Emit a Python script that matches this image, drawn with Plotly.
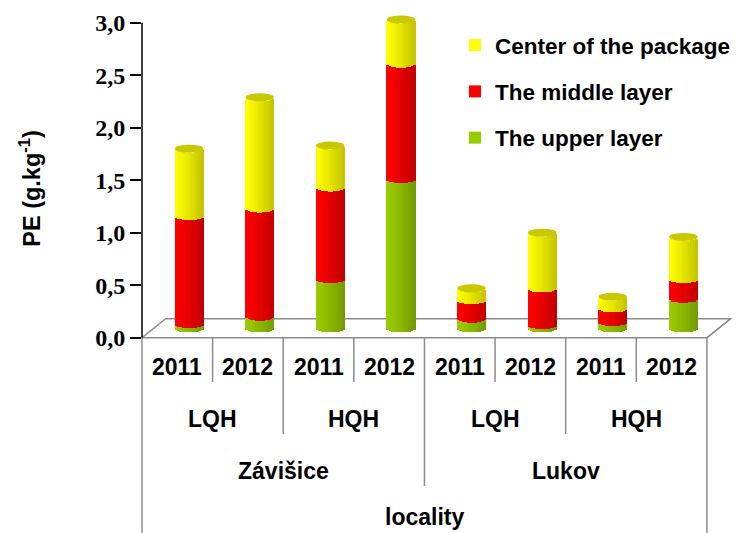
import math
import plotly.graph_objects as go

# ---- data -------------------------------------------------------------
localities = ["Závišice", "Lukov"]
habitats = ["LQH", "HQH"]
years = ["2011", "2012"]

series_names = ["The upper layer", "The middle layer", "Center of the package"]
upper_layer = [0.04, 0.11, 0.47, 1.42, 0.09, 0.03, 0.06, 0.28]
middle_layer = [1.03, 1.03, 0.87, 1.10, 0.18, 0.35, 0.13, 0.19]
center_package = [0.64, 1.06, 0.40, 0.42, 0.11, 0.53, 0.11, 0.40]

tick_values = [0, 0.5, 1.0, 1.5, 2.0, 2.5, 3.0]
tick_labels = ["0,0", "0,5", "1,0", "1,5", "2,0", "2,5", "3,0"]

y_title = "PE (g.kg<sup>-1</sup>)"
x_title = "locality"

# ---- geometry ---------------------------------------------------------
FIG_W, FIG_H = 736, 533
M_L, M_R, M_T, M_B = 142, 0, 7, 190
PLOT_W = FIG_W - M_L - M_R
PLOT_H = FIG_H - M_T - M_B
FRONT_RANGE = [-0.05, 3.15]     # value range measured on the front edge of the floor
CAT_PX = 71.7
X_RANGE = [-0.5, -0.5 + PLOT_W / CAT_PX]
UNIT_PX = PLOT_H / (FRONT_RANGE[1] - FRONT_RANGE[0])
PLOT_BOTTOM = FIG_H - M_B

DEPTH_DX = 24 / CAT_PX          # floor depth, horizontal
DEPTH_DY = 19 / UNIT_PX         # floor depth, vertical
BAR_W = 29 / CAT_PX             # cylinder diameter
CAP_H = 8 / UNIT_PX             # ellipse height of a cylinder cross-section
N_SLICES = 12

# the cylinders stand half way back on the floor: the value axis is shifted
Y_RANGE = [FRONT_RANGE[0] - DEPTH_DY / 2, FRONT_RANGE[1] - DEPTH_DY / 2]

GRAY = "#8c8c8c"
FONT = "Arial, Liberation Sans, sans-serif"
SERIF = "Times New Roman, Liberation Serif, serif"


def px_x(xd):
    return (xd - X_RANGE[0]) / (X_RANGE[1] - X_RANGE[0])


def px_y(yd):
    return (yd - FRONT_RANGE[0]) / (FRONT_RANGE[1] - FRONT_RANGE[0])


def paper_y(pixel):
    return (PLOT_BOTTOM - pixel) / PLOT_H


def shade(rgb, t):
    f = 1 - 0.24 * t ** 1.2
    return "rgb(%d,%d,%d)" % tuple(round(c * f) for c in rgb)


base_rgb = [(153, 204, 0), (255, 0, 0), (255, 255, 0)]
cap_color = "rgb(200,200,0)"
series_values = [upper_layer, middle_layer, center_package]

n_cat = len(upper_layer)
centers = [i + DEPTH_DX / 2 for i in range(n_cat)]

fig = go.Figure()

# stacked cylinders, each drawn as vertical slices shaded left-to-right
cum = [0.0] * n_cat
for s, (name, vals, rgb) in enumerate(zip(series_names, series_values, base_rgb)):
    for k in range(N_SLICES):
        u = -1 + (2 * k + 1) / N_SLICES
        arc = CAP_H / 2 * math.sqrt(max(0.0, 1 - u * u))
        color = shade(rgb, (k + 0.5) / N_SLICES)
        fig.add_trace(go.Bar(
            x=[c + u * BAR_W / 2 for c in centers],
            y=vals,
            base=[b - arc for b in cum],
            width=BAR_W / N_SLICES * 1.25,
            marker=dict(color=color, line=dict(width=0)),
            name=name,
            legendgroup=name,
            legendrank=3 - s,
            showlegend=(k == 0),
            hoverinfo="skip",
        ))
    cum = [a + b for a, b in zip(cum, vals)]

shapes = []

# floor of the 3D plot
shapes.append(dict(
    type="path", xref="paper", yref="paper", layer="below",
    path="M %f,%f L %f,%f L %f,%f L %f,%f Z" % (
        px_x(-0.5), px_y(0), px_x(n_cat - 0.5), px_y(0),
        px_x(n_cat - 0.5 + DEPTH_DX), px_y(DEPTH_DY), px_x(-0.5 + DEPTH_DX), px_y(DEPTH_DY)),
    fillcolor="white", line=dict(color=GRAY, width=1.5),
))

# top caps of the cylinders
for c, tot in zip(centers, cum):
    shapes.append(dict(
        type="circle", xref="x", yref="y",
        x0=c - BAR_W / 2, x1=c + BAR_W / 2,
        y0=tot - CAP_H / 2, y1=tot + CAP_H / 2,
        fillcolor=cap_color, line=dict(width=0),
    ))

# vertical value axis line
shapes.append(dict(type="line", xref="paper", yref="paper",
                   x0=0, x1=0, y0=px_y(0), y1=px_y(3.0),
                   line=dict(color="black", width=1.5)))

# category table below the floor
level_bottoms = [382, 434, 486]
for b in range(1, n_cat):
    if b % 4 == 0:
        bottom = level_bottoms[2]
    elif b % 2 == 0:
        bottom = level_bottoms[1]
    else:
        bottom = level_bottoms[0]
    shapes.append(dict(type="line", xref="paper", yref="paper",
                       x0=px_x(b - 0.5), x1=px_x(b - 0.5),
                       y0=px_y(0), y1=paper_y(bottom),
                       line=dict(color=GRAY, width=1.5)))
for edge in (-0.5, n_cat - 0.5):
    shapes.append(dict(type="line", xref="paper", yref="paper",
                       x0=px_x(edge), x1=px_x(edge),
                       y0=px_y(0), y1=paper_y(FIG_H + 2),
                       line=dict(color=GRAY, width=1.5)))
# right side edge of the floor
shapes.append(dict(type="line", xref="paper", yref="paper",
                   x0=px_x(n_cat - 0.5), x1=px_x(n_cat - 0.5 + DEPTH_DX),
                   y0=px_y(0), y1=px_y(DEPTH_DY),
                   line=dict(color=GRAY, width=1.5)))

annotations = []
lab_font = dict(family=FONT, size=23, color="black", weight="bold")


def cat_label(x, pixel_y, text):
    return dict(x=x, y=paper_y(pixel_y), xref="x", yref="paper",
                xanchor="center", yanchor="middle",
                text=text, showarrow=False, font=lab_font)


i = 0
for loc in localities:
    for hab in habitats:
        for yr in years:
            annotations.append(cat_label(i, 367, yr))
            i += 1
for j, hab in enumerate(habitats * len(localities)):
    annotations.append(cat_label(2 * j + 0.5, 419, hab))
for j, loc in enumerate(localities):
    annotations.append(cat_label(4 * j + 1.5, 471, loc))
annotations.append(cat_label((n_cat - 1) / 2, 517, x_title))
annotations.append(dict(x=(28 - M_L) / PLOT_W, y=paper_y(189), xref="paper", yref="paper",
                        xanchor="center", yanchor="middle",
                        text=y_title, textangle=-90, showarrow=False,
                        font=dict(family=FONT, size=23.5, color="black", weight="bold")))

fig.update_layout(
    width=FIG_W, height=FIG_H,
    margin=dict(l=M_L, r=M_R, t=M_T, b=M_B, pad=0),
    paper_bgcolor="white", plot_bgcolor="rgba(0,0,0,0)",
    barmode="overlay",
    bargap=0,
    xaxis=dict(range=X_RANGE, visible=False, fixedrange=True),
    yaxis=dict(range=Y_RANGE,
               tickvals=[v - DEPTH_DY / 2 for v in tick_values], ticktext=tick_labels,
               ticks="outside", ticklen=11, tickwidth=1.5, tickcolor="black",
               showgrid=False, zeroline=False, showline=False, fixedrange=True,
               tickfont=dict(family=SERIF, size=24, color="black", weight="bold")),
    legend=dict(x=(460 - M_L) / PLOT_W, y=paper_y(24), xanchor="left", yanchor="top",
                bgcolor="rgba(0,0,0,0)", tracegroupgap=14,
                font=dict(family=FONT, size=22.5, color="black", weight="bold")),
    shapes=shapes,
    annotations=annotations,
    showlegend=True,
)

fig.write_html("out.html")
